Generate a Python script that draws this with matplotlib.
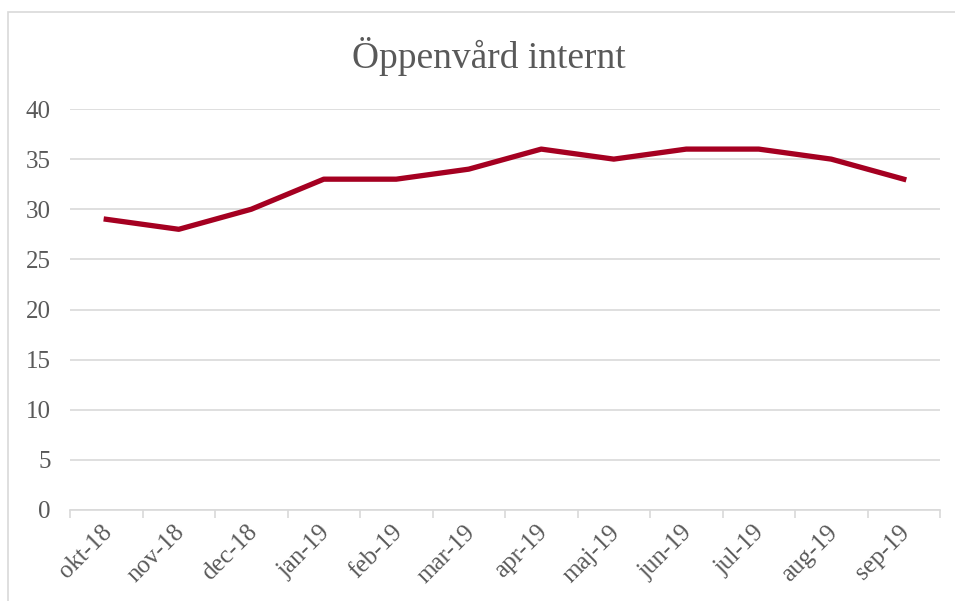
import matplotlib.pyplot as plt
from matplotlib.patches import Rectangle
from matplotlib.transforms import ScaledTranslation

# data
months = ['okt-18', 'nov-18', 'dec-18', 'jan-19', 'feb-19', 'mar-19',
          'apr-19', 'maj-19', 'jun-19', 'jul-19', 'aug-19', 'sep-19']
values = [29, 28, 30, 33, 33, 34, 36, 35, 36, 36, 35, 33]
yticks = [0, 5, 10, 15, 20, 25, 30, 35, 40]

text_col = '#595959'
grid_col = '#d9d9d9'

plt.rcParams['font.family'] = ['Liberation Serif', 'DejaVu Serif']

dpi = 100
fig = plt.figure(figsize=(955 / dpi, 601 / dpi), dpi=dpi)
fig.patches.append(Rectangle((8 / 955, -0.1), 1.2, 1 - 12 / 601 + 0.1,
                             transform=fig.transFigure, fill=False,
                             edgecolor=grid_col, linewidth=1.2))

ax = fig.add_axes([70 / 955, 1 - 510 / 601, 870 / 955, 401 / 601])
x = list(range(len(months)))
ax.plot(x, values, color='#A50021', linewidth=3.8, solid_joinstyle='round')

ax.set_xlim(-0.5, len(months) - 0.5)
ax.set_ylim(0, 40)
ax.set_yticks(yticks)
ax.set_xticks(x)
ax.set_xticklabels(months, rotation=45, ha='right', rotation_mode='anchor')
ax.set_xticks([i - 0.5 for i in range(len(months) + 1)], minor=True)

ax.grid(axis='y', color=grid_col, linewidth=1.2)
ax.set_axisbelow(True)
for s in ['top', 'right', 'left']:
    ax.spines[s].set_visible(False)
ax.spines['bottom'].set_color(grid_col)
ax.spines['bottom'].set_linewidth(1.2)

ax.tick_params(axis='y', length=0, pad=14, labelsize=18, labelcolor=text_col)
ax.tick_params(axis='x', which='major', length=0, pad=8, labelsize=18,
               labelcolor=text_col)
ax.tick_params(axis='x', which='minor', length=6, color=grid_col, width=1.2)

# nudge rotated labels a little to the left
shift = ScaledTranslation(-5 / dpi, 0, fig.dpi_scale_trans)
for lbl in ax.get_xticklabels():
    lbl.set_transform(lbl.get_transform() + shift)

fig.text(489 / 955, 1 - 57 / 601, 'Öppenvård internt', ha='center',
         va='center', fontsize=27, color=text_col)

fig.savefig('out.png', dpi=dpi)
